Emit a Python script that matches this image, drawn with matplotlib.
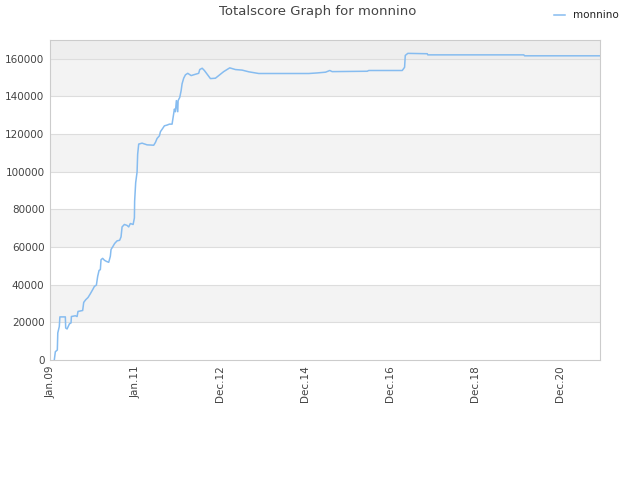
import matplotlib
matplotlib.use("Agg")
import matplotlib.pyplot as plt
import matplotlib.dates as mdates
import numpy as np
import datetime as dt

dates = [
    "2009-02-04", "2009-02-13", "2009-03-02", "2009-03-06", "2009-03-19", "2009-03-24",
    "2009-05-10", "2009-05-13", "2009-05-25", "2009-06-14", "2009-06-28", "2009-07-01",
    "2009-08-04", "2009-08-19", "2009-08-27", "2009-10-06", "2009-10-15", "2009-11-01",
    "2009-11-21", "2009-12-11", "2010-01-03", "2010-01-15", "2010-02-01", "2010-02-12",
    "2010-02-24", "2010-03-07", "2010-03-13", "2010-03-27", "2010-04-11", "2010-04-28",
    "2010-05-18", "2010-06-01", "2010-06-07", "2010-06-21", "2010-07-08", "2010-07-29",
    "2010-08-20", "2010-09-01", "2010-09-10", "2010-09-30", "2010-10-23", "2010-11-06",
    "2010-11-20", "2010-12-14", "2010-12-25", "2010-12-27", "2011-01-05", "2011-01-17",
    "2011-01-22", "2011-01-31", "2011-03-01", "2011-04-13", "2011-06-09", "2011-06-24",
    "2011-07-08", "2011-07-28", "2011-08-06", "2011-08-25", "2011-09-09", "2011-10-02",
    "2011-10-22", "2011-11-14", "2011-11-23", "2011-12-04", "2011-12-13", "2011-12-21",
    "2012-01-02", "2012-01-05", "2012-01-19", "2012-01-31", "2012-02-08", "2012-02-22",
    "2012-03-08", "2012-03-28", "2012-04-26", "2012-06-02", "2012-06-30", "2012-07-09",
    "2012-07-30", "2012-08-18", "2012-10-09", "2012-11-21", "2013-01-31", "2013-03-24",
    "2013-05-12", "2013-07-09", "2013-09-04", "2013-11-29", "2015-02-02", "2015-04-15",
    "2015-06-26", "2015-08-02", "2015-08-22", "2016-06-19", "2016-07-02", "2017-04-16",
    "2017-05-06", "2017-05-12", "2017-06-03", "2017-11-17", "2017-11-22", "2020-02-26",
    "2020-03-03", "2021-12-15",
]
scores = [
    0, 4400, 5300, 14400, 17800, 22900,
    22900, 17000, 16500, 19200, 19700, 23100,
    23500, 23100, 25800, 26300, 30600, 32000,
    33200, 35200, 37700, 39100, 39800, 44400,
    47600, 48000, 53300, 54000, 53000, 52400,
    51900, 55100, 58700, 60100, 61900, 63300,
    63600, 65400, 70700, 72000, 71500, 70700,
    72500, 72000, 75500, 84400, 94200, 99900,
    109300, 114700, 115200, 114300, 114100, 115600,
    117700, 119100, 121300, 123000, 124400, 124800,
    125300, 125300, 128900, 133300, 131900, 137800,
    131900, 137800, 139500, 143100, 146700, 149700,
    151500, 152300, 151100, 151800, 152300, 154300,
    155000, 153800, 149500, 149700, 153200, 155200,
    154300, 154000, 153100, 152200, 152200, 152500,
    152900, 153800, 153200, 153400, 153800, 153800,
    155500, 161800, 162900, 162700, 162100, 162100,
    161600, 161600,
]
tick_dates = ["2009-01-01", "2011-01-01", "2012-12-31", "2014-12-31",
              "2016-12-30", "2018-12-30", "2020-12-29"]
tick_labels = ["Jan.09", "Jan.11", "Dec.12", "Dec.14", "Dec.16", "Dec.18", "Dec.20"]
y_ticks = [0, 20000, 40000, 60000, 80000, 100000, 120000, 140000, 160000]
series_name = "monnino"
title = "Totalscore Graph for monnino"

to_d = lambda s: dt.datetime.strptime(s, "%Y-%m-%d")
xd = [to_d(s) for s in dates]

fig = plt.figure(figsize=(6.4, 4.8), dpi=100)
ax = fig.add_axes([50/640, 1-360/480, 550/640, 320/480])

ymax = 170000
xmin = mdates.date2num(to_d("2009-01-01")) - 3
xmax = mdates.date2num(to_d("2021-12-12"))

# alternating bands
for i, lo in enumerate(y_ticks[:-1]):
    if i % 2 == 1:
        ax.axhspan(lo, lo + 20000, color="#f3f3f3", zorder=0, lw=0)
ax.axhspan(160000, ymax, color="#eeeeee", zorder=0, lw=0)
for y in y_ticks[1:]:
    ax.axhline(y, color="#dddddd", lw=0.8, zorder=1)

ax.plot(xd, scores, color="#86bcf0", lw=1.1, zorder=3, label=series_name)

ax.set_xlim(xmin, xmax)
ax.set_ylim(0, ymax)
ax.set_yticks(y_ticks)
ax.set_yticklabels([str(v) for v in y_ticks])
ax.set_xticks([mdates.date2num(to_d(s)) for s in tick_dates])
ax.set_xticklabels(tick_labels, rotation=90)
ax.tick_params(axis="both", labelsize=7.5, colors="#444444", length=0, pad=4)
for sp in ax.spines.values():
    sp.set_color("#cccccc")
    sp.set_linewidth(0.8)

fig.text(318/640, 1-12/480, title, ha="center", va="center", fontsize=9.5, color="#444444")
fig.legend(loc="upper right", bbox_to_anchor=(628/640, 0.998), frameon=False, fontsize=7.5,
           handlelength=1.0, handletextpad=0.8, labelcolor="#222222")

fig.savefig("out.png", dpi=100)
